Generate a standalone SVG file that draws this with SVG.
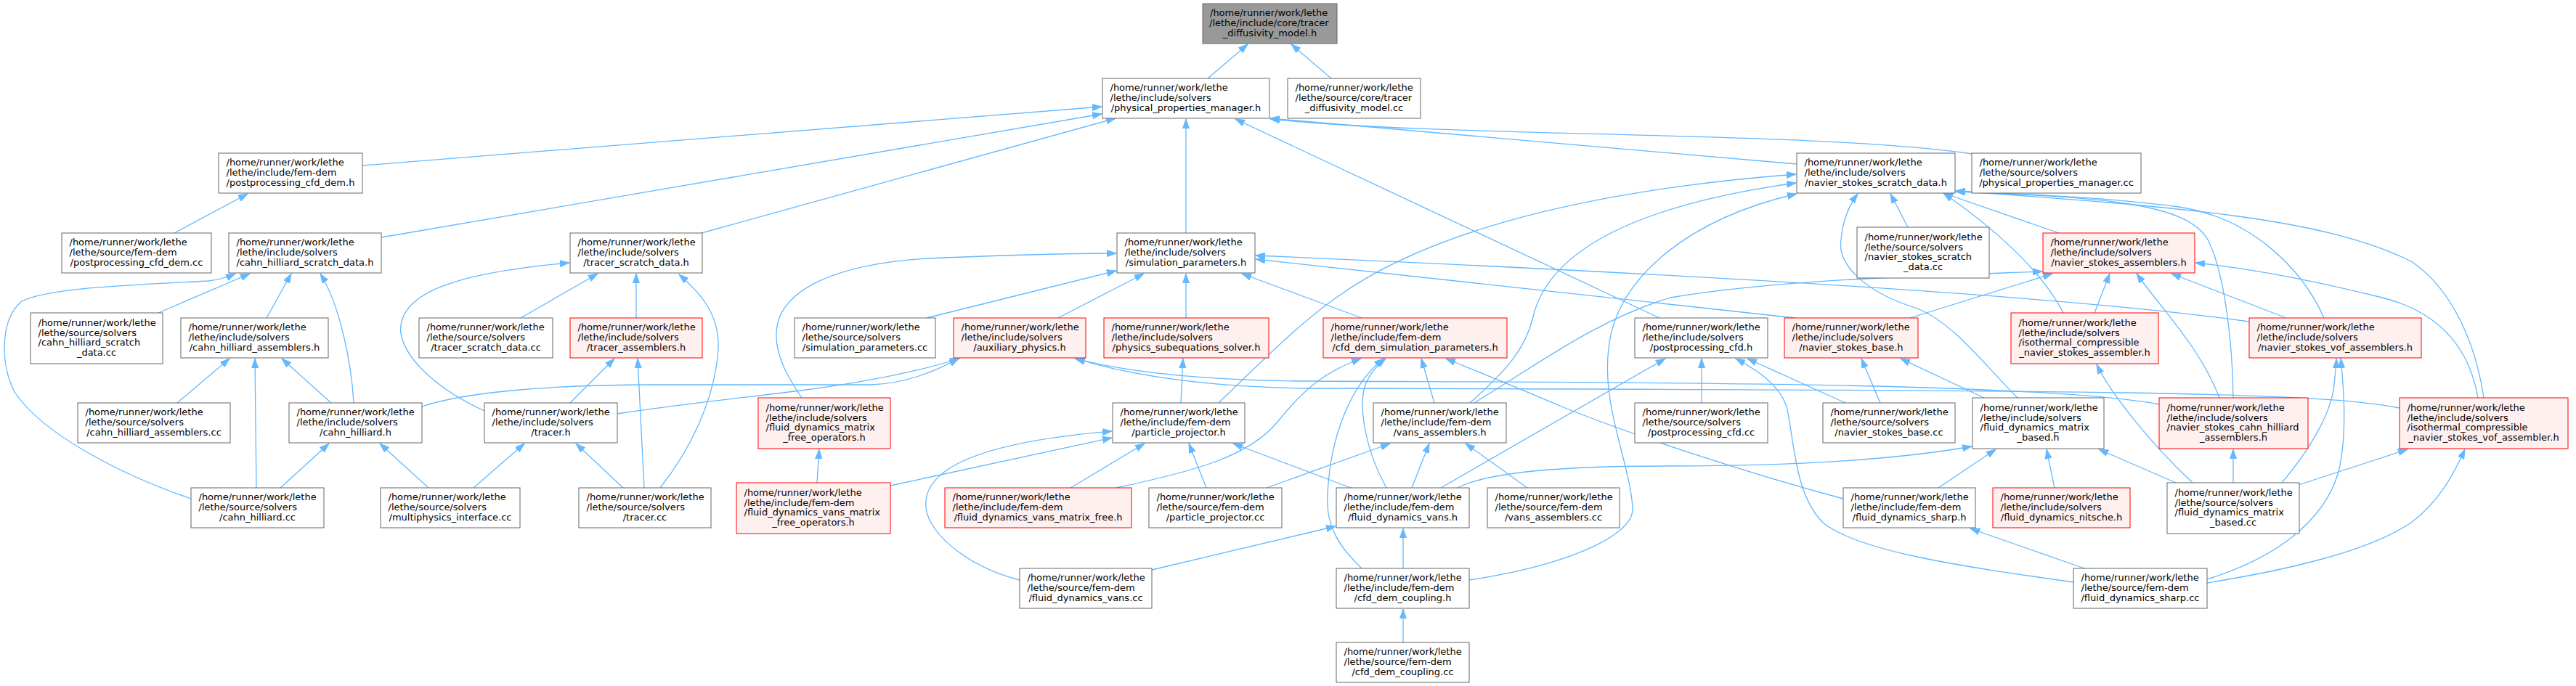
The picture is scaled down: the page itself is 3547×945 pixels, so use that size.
<svg xmlns="http://www.w3.org/2000/svg" width="3547" height="945" viewBox="0 0 3547 945">
<style>
.n rect{fill:#ffffff;stroke:#666666;stroke-width:1}
.r rect{fill:#fff0f0;stroke:#ff0000;stroke-width:1}
.g rect{fill:#999999;stroke:#666666;stroke-width:1}
text{font-family:"DejaVu Sans","Liberation Sans",sans-serif;font-size:13px;fill:#000000}
.m{text-anchor:middle}
#edges path{fill:none;stroke:#63b8ff;stroke-width:1.3;marker-end:url(#a)}
</style>
<defs>
<marker id="a" markerUnits="userSpaceOnUse" markerWidth="14" markerHeight="10" refX="13" refY="5" orient="auto"><path d="M0,0.5 L13,5 L0,9.5 Z" fill="#63b8ff" stroke="#63b8ff" stroke-width="1"/></marker>
</defs>
<rect x="0" y="0" width="3547" height="945" fill="#ffffff"/>
<g id="edges">
<path d="M1663,108 L1718,61"/>
<path d="M1833,108 L1778,61"/>
<path d="M499,228 L1517,147"/>
<path d="M525,327 L1517,157"/>
<path d="M966,321 L1536,163"/>
<path d="M1633,321 L1633,164"/>
<path d="M2474,226 L1749,163"/>
<path d="M2716,212 C2500,180 2000,190 1749,164"/>
<path d="M2285,438 L1701,164"/>
<path d="M240,321 L341,267"/>
<path d="M218,431 L344,377"/>
<path d="M263,687 C170,655 60,600 20,540 C0,500 0,440 30,415 C70,395 200,392 287,387 C305,385 315,381 324,377"/>
<path d="M367,438 L401,377"/>
<path d="M487,555 C484,500 468,420 441,377"/>
<path d="M244,555 L316,494"/>
<path d="M353,672 L351,494"/>
<path d="M456,555 L388,494"/>
<path d="M386,672 L453,611"/>
<path d="M590,672 L523,611"/>
<path d="M581,560 C640,540 760,530 900,530 L1200,530 C1250,528 1290,510 1320,494"/>
<path d="M850,570 C950,555 1050,545 1110,537 C1200,525 1270,510 1321,494"/>
<path d="M717,438 L823,377"/>
<path d="M876,438 L876,377"/>
<path d="M667,566 C610,540 560,500 552,460 C545,400 640,375 784,362"/>
<path d="M909,672 C950,620 985,550 989,480 C991,430 960,400 935,378"/>
<path d="M785,555 L846,494"/>
<path d="M887,672 L878,494"/>
<path d="M652,672 L722,611"/>
<path d="M858,672 L793,611"/>
<path d="M1276,438 L1537,373"/>
<path d="M1457,438 L1575,377"/>
<path d="M1633,438 L1633,377"/>
<path d="M1875,438 L1710,377"/>
<path d="M2472,438 L1729,357"/>
<path d="M3097,443 C2900,415 2500,385 1729,352"/>
<path d="M1104,548 C1085,520 1068,490 1069,460 C1070,400 1150,360 1300,355 C1400,351 1480,349 1537,349"/>
<path d="M1626,555 L1629,494"/>
<path d="M1678,555 C1740,495 1790,445 1840,410 C1950,330 2150,265 2473,240"/>
<path d="M2024,555 C2075,510 2100,480 2110,440 C2125,370 2200,290 2473,252"/>
<path d="M2030,555 C2120,500 2200,440 2300,410 C2450,385 2650,380 2812,374"/>
<path d="M2023,799 C2150,780 2250,740 2248,700 C2245,640 2205,560 2215,480 C2225,380 2330,300 2474,267"/>
<path d="M2841,431 C2810,370 2740,310 2676,266"/>
<path d="M2835,321 L2676,266"/>
<path d="M2627,313 L2603,267"/>
<path d="M2778,548 C2730,500 2690,445 2640,425 C2560,400 2530,360 2535,330 C2538,300 2548,280 2558,267"/>
<path d="M3075,548 C3074,480 3065,380 3040,330 C3010,280 2900,272 2693,264"/>
<path d="M3200,438 C3170,370 3100,300 3000,285 C2900,272 2800,268 2693,263"/>
<path d="M3420,548 C3410,480 3380,400 3320,360 C3200,300 3000,285 2693,263"/>
<path d="M2884,431 L2905,377"/>
<path d="M3056,548 C3030,480 2980,430 2942,377"/>
<path d="M3148,438 L2990,377"/>
<path d="M2630,438 L2826,377"/>
<path d="M3412,548 C3400,480 3360,430 3280,410 C3180,385 3100,370 3023,362"/>
<path d="M2589,555 L2563,494"/>
<path d="M2732,548 L2617,494"/>
<path d="M1984,672 L2293,494"/>
<path d="M2343,555 L2343,494"/>
<path d="M2855,802 C2700,780 2560,760 2510,720 C2470,680 2470,600 2460,560 C2450,530 2420,510 2390,494"/>
<path d="M2541,555 L2406,494"/>
<path d="M1537,672 C1640,650 1720,630 1760,580 C1800,530 1830,510 1874,494"/>
<path d="M1909,672 C1880,620 1870,560 1880,530 C1888,510 1900,500 1908,494"/>
<path d="M1875,783 C1840,750 1825,720 1828,680 C1832,600 1860,530 1905,494"/>
<path d="M1975,555 L1957,494"/>
<path d="M2538,687 C2400,650 2250,600 2150,560 C2080,530 2030,510 1991,494"/>
<path d="M1404,799 C1330,780 1270,730 1275,690 C1280,630 1400,605 1531,594"/>
<path d="M1226,669 L1531,603"/>
<path d="M1474,672 L1576,611"/>
<path d="M1661,672 L1637,611"/>
<path d="M1860,672 L1698,611"/>
<path d="M1125,665 L1128,619"/>
<path d="M1744,672 L1914,611"/>
<path d="M1944,672 L1968,611"/>
<path d="M2103,672 L2018,611"/>
<path d="M2007,672 C2050,650 2150,642 2300,642 C2450,642 2600,635 2715,615"/>
<path d="M1586,785 L1839,725"/>
<path d="M1932,783 L1932,728"/>
<path d="M1932,885 L1932,839"/>
<path d="M2669,672 L2748,619"/>
<path d="M2829,672 L2818,619"/>
<path d="M2996,665 L2890,619"/>
<path d="M2870,783 L2713,728"/>
<path d="M3075,665 L3075,619"/>
<path d="M3019,665 C2960,610 2905,540 2887,502"/>
<path d="M3142,665 C3180,620 3210,570 3214,530 C3216,510 3217,500 3217,494"/>
<path d="M3165,668 L3315,619"/>
<path d="M3039,798 C3130,770 3200,720 3220,650 C3232,600 3228,540 3223,494"/>
<path d="M3039,803 C3150,785 3260,760 3320,720 C3360,690 3380,650 3394,619"/>
<path d="M2973,557 C2800,525 2200,527 1800,525 C1650,524 1550,512 1480,494"/>
<path d="M3304,562 C3200,540 2900,537 1800,535 C1650,533 1550,515 1481,494"/>
</g>
<g id="n0" class="g"><rect x="1656" y="5" width="185" height="55"/><text x="1666" y="22.2">/home/runner/work/lethe</text><text x="1665" y="36">/lethe/include/core/tracer</text><text class="m" x="1748.5" y="49.8">_diffusivity_model.h</text></g>
<g id="n1" class="n"><rect x="1518" y="108" width="230" height="55"/><text x="1528.5" y="125.2">/home/runner/work/lethe</text><text x="1528.5" y="139">/lethe/include/solvers</text><text class="m" x="1633" y="152.8">/physical_properties_manager.h</text></g>
<g id="n2" class="n"><rect x="1773" y="108" width="183" height="55"/><text x="1783.5" y="125.2">/home/runner/work/lethe</text><text x="1783.5" y="139">/lethe/source/core/tracer</text><text class="m" x="1864.5" y="152.8">_diffusivity_model.cc</text></g>
<g id="n3" class="n"><rect x="301" y="211" width="198" height="55"/><text x="311.5" y="228.2">/home/runner/work/lethe</text><text x="311.5" y="242">/lethe/include/fem-dem</text><text class="m" x="400" y="255.8">/postprocessing_cfd_dem.h</text></g>
<g id="n4" class="n"><rect x="2474" y="211" width="218" height="55"/><text x="2484.5" y="228.2">/home/runner/work/lethe</text><text x="2484.5" y="242">/lethe/include/solvers</text><text class="m" x="2583" y="255.8">/navier_stokes_scratch_data.h</text></g>
<g id="n5" class="n"><rect x="2715" y="211" width="233" height="55"/><text x="2725.5" y="228.2">/home/runner/work/lethe</text><text x="2725.5" y="242">/lethe/source/solvers</text><text class="m" x="2831.5" y="255.8">/physical_properties_manager.cc</text></g>
<g id="n6" class="n"><rect x="85" y="321" width="206" height="55"/><text x="95.5" y="338.2">/home/runner/work/lethe</text><text x="95.5" y="352">/lethe/source/fem-dem</text><text class="m" x="188" y="365.8">/postprocessing_cfd_dem.cc</text></g>
<g id="n7" class="n"><rect x="315" y="321" width="210" height="55"/><text x="325.5" y="338.2">/home/runner/work/lethe</text><text x="325.5" y="352">/lethe/include/solvers</text><text class="m" x="420" y="365.8">/cahn_hilliard_scratch_data.h</text></g>
<g id="n8" class="n"><rect x="785" y="321" width="182" height="55"/><text x="795.5" y="338.2">/home/runner/work/lethe</text><text x="795.5" y="352">/lethe/include/solvers</text><text class="m" x="876" y="365.8">/tracer_scratch_data.h</text></g>
<g id="n9" class="n"><rect x="1538" y="321" width="190" height="55"/><text x="1548.5" y="338.2">/home/runner/work/lethe</text><text x="1548.5" y="352">/lethe/include/solvers</text><text class="m" x="1633" y="365.8">/simulation_parameters.h</text></g>
<g id="n10" class="n"><rect x="2557" y="313" width="182" height="70"/><text x="2567.5" y="330.8">/home/runner/work/lethe</text><text x="2567.5" y="344.6">/lethe/source/solvers</text><text x="2567.5" y="358.4">/navier_stokes_scratch</text><text class="m" x="2648" y="372.2">_data.cc</text></g>
<g id="n11" class="r"><rect x="2813" y="321" width="209" height="55"/><text x="2823.5" y="338.2">/home/runner/work/lethe</text><text x="2823.5" y="352">/lethe/include/solvers</text><text class="m" x="2917.5" y="365.8">/navier_stokes_assemblers.h</text></g>
<g id="n12" class="n"><rect x="42" y="431" width="182" height="70"/><text x="52.5" y="448.8">/home/runner/work/lethe</text><text x="52.5" y="462.6">/lethe/source/solvers</text><text x="52.5" y="476.4">/cahn_hilliard_scratch</text><text class="m" x="133" y="490.2">_data.cc</text></g>
<g id="n13" class="n"><rect x="249" y="438" width="203" height="55"/><text x="259.5" y="455.2">/home/runner/work/lethe</text><text x="259.5" y="469">/lethe/include/solvers</text><text class="m" x="350.5" y="482.8">/cahn_hilliard_assemblers.h</text></g>
<g id="n14" class="n"><rect x="577" y="438" width="184" height="55"/><text x="587.5" y="455.2">/home/runner/work/lethe</text><text x="587.5" y="469">/lethe/source/solvers</text><text class="m" x="669" y="482.8">/tracer_scratch_data.cc</text></g>
<g id="n15" class="r"><rect x="785" y="438" width="182" height="55"/><text x="795.5" y="455.2">/home/runner/work/lethe</text><text x="795.5" y="469">/lethe/include/solvers</text><text class="m" x="876" y="482.8">/tracer_assemblers.h</text></g>
<g id="n16" class="n"><rect x="1094" y="438" width="194" height="55"/><text x="1104.5" y="455.2">/home/runner/work/lethe</text><text x="1104.5" y="469">/lethe/source/solvers</text><text class="m" x="1191" y="482.8">/simulation_parameters.cc</text></g>
<g id="n17" class="r"><rect x="1313" y="438" width="182" height="55"/><text x="1323.5" y="455.2">/home/runner/work/lethe</text><text x="1323.5" y="469">/lethe/include/solvers</text><text class="m" x="1404" y="482.8">/auxiliary_physics.h</text></g>
<g id="n18" class="r"><rect x="1520" y="438" width="227" height="55"/><text x="1530.5" y="455.2">/home/runner/work/lethe</text><text x="1530.5" y="469">/lethe/include/solvers</text><text class="m" x="1633.5" y="482.8">/physics_subequations_solver.h</text></g>
<g id="n19" class="r"><rect x="1822" y="438" width="253" height="55"/><text x="1832.5" y="455.2">/home/runner/work/lethe</text><text x="1832.5" y="469">/lethe/include/fem-dem</text><text class="m" x="1948.5" y="482.8">/cfd_dem_simulation_parameters.h</text></g>
<g id="n20" class="n"><rect x="2251" y="438" width="183" height="55"/><text x="2261.5" y="455.2">/home/runner/work/lethe</text><text x="2261.5" y="469">/lethe/include/solvers</text><text class="m" x="2342.5" y="482.8">/postprocessing_cfd.h</text></g>
<g id="n21" class="r"><rect x="2457" y="438" width="184" height="55"/><text x="2467.5" y="455.2">/home/runner/work/lethe</text><text x="2467.5" y="469">/lethe/include/solvers</text><text class="m" x="2549" y="482.8">/navier_stokes_base.h</text></g>
<g id="n22" class="r"><rect x="2769" y="431" width="203" height="70"/><text x="2779.5" y="448.8">/home/runner/work/lethe</text><text x="2779.5" y="462.6">/lethe/include/solvers</text><text x="2779.5" y="476.4">/isothermal_compressible</text><text class="m" x="2870.5" y="490.2">_navier_stokes_assembler.h</text></g>
<g id="n23" class="r"><rect x="3097" y="438" width="237" height="55"/><text x="3107.5" y="455.2">/home/runner/work/lethe</text><text x="3107.5" y="469">/lethe/include/solvers</text><text class="m" x="3215.5" y="482.8">/navier_stokes_vof_assemblers.h</text></g>
<g id="n24" class="n"><rect x="107" y="555" width="210" height="55"/><text x="117.5" y="572.2">/home/runner/work/lethe</text><text x="117.5" y="586">/lethe/source/solvers</text><text class="m" x="212" y="599.8">/cahn_hilliard_assemblers.cc</text></g>
<g id="n25" class="n"><rect x="398" y="555" width="183" height="55"/><text x="408.5" y="572.2">/home/runner/work/lethe</text><text x="408.5" y="586">/lethe/include/solvers</text><text class="m" x="489.5" y="599.8">/cahn_hilliard.h</text></g>
<g id="n26" class="n"><rect x="667" y="555" width="183" height="55"/><text x="677.5" y="572.2">/home/runner/work/lethe</text><text x="677.5" y="586">/lethe/include/solvers</text><text class="m" x="758.5" y="599.8">/tracer.h</text></g>
<g id="n27" class="r"><rect x="1044" y="548" width="182" height="70"/><text x="1054.5" y="565.8">/home/runner/work/lethe</text><text x="1054.5" y="579.6">/lethe/include/solvers</text><text x="1054.5" y="593.4">/fluid_dynamics_matrix</text><text class="m" x="1135" y="607.2">_free_operators.h</text></g>
<g id="n28" class="n"><rect x="1532" y="555" width="182" height="55"/><text x="1542.5" y="572.2">/home/runner/work/lethe</text><text x="1542.5" y="586">/lethe/include/fem-dem</text><text class="m" x="1623" y="599.8">/particle_projector.h</text></g>
<g id="n29" class="n"><rect x="1891" y="555" width="183" height="55"/><text x="1901.5" y="572.2">/home/runner/work/lethe</text><text x="1901.5" y="586">/lethe/include/fem-dem</text><text class="m" x="1982.5" y="599.8">/vans_assemblers.h</text></g>
<g id="n30" class="n"><rect x="2251" y="555" width="183" height="55"/><text x="2261.5" y="572.2">/home/runner/work/lethe</text><text x="2261.5" y="586">/lethe/source/solvers</text><text class="m" x="2342.5" y="599.8">/postprocessing_cfd.cc</text></g>
<g id="n31" class="n"><rect x="2510" y="555" width="182" height="55"/><text x="2520.5" y="572.2">/home/runner/work/lethe</text><text x="2520.5" y="586">/lethe/source/solvers</text><text class="m" x="2601" y="599.8">/navier_stokes_base.cc</text></g>
<g id="n32" class="n"><rect x="2716" y="548" width="181" height="70"/><text x="2726.5" y="565.8">/home/runner/work/lethe</text><text x="2726.5" y="579.6">/lethe/include/solvers</text><text x="2726.5" y="593.4">/fluid_dynamics_matrix</text><text class="m" x="2806.5" y="607.2">_based.h</text></g>
<g id="n33" class="r"><rect x="2973" y="548" width="205" height="70"/><text x="2983.5" y="565.8">/home/runner/work/lethe</text><text x="2983.5" y="579.6">/lethe/include/solvers</text><text x="2983.5" y="593.4">/navier_stokes_cahn_hilliard</text><text class="m" x="3075.5" y="607.2">_assemblers.h</text></g>
<g id="n34" class="r"><rect x="3304" y="548" width="232" height="70"/><text x="3314.5" y="565.8">/home/runner/work/lethe</text><text x="3314.5" y="579.6">/lethe/include/solvers</text><text x="3314.5" y="593.4">/isothermal_compressible</text><text class="m" x="3420" y="607.2">_navier_stokes_vof_assembler.h</text></g>
<g id="n35" class="n"><rect x="263" y="672" width="183" height="55"/><text x="273.5" y="689.2">/home/runner/work/lethe</text><text x="273.5" y="703">/lethe/source/solvers</text><text class="m" x="354.5" y="716.8">/cahn_hilliard.cc</text></g>
<g id="n36" class="n"><rect x="524" y="672" width="192" height="55"/><text x="534.5" y="689.2">/home/runner/work/lethe</text><text x="534.5" y="703">/lethe/source/solvers</text><text class="m" x="620" y="716.8">/multiphysics_interface.cc</text></g>
<g id="n37" class="n"><rect x="797" y="672" width="182" height="55"/><text x="807.5" y="689.2">/home/runner/work/lethe</text><text x="807.5" y="703">/lethe/source/solvers</text><text class="m" x="888" y="716.8">/tracer.cc</text></g>
<g id="n38" class="r"><rect x="1014" y="665" width="212" height="70"/><text x="1024.5" y="682.8">/home/runner/work/lethe</text><text x="1024.5" y="696.6">/lethe/include/fem-dem</text><text x="1024.5" y="710.4">/fluid_dynamics_vans_matrix</text><text class="m" x="1120" y="724.2">_free_operators.h</text></g>
<g id="n39" class="r"><rect x="1301" y="672" width="257" height="55"/><text x="1311.5" y="689.2">/home/runner/work/lethe</text><text x="1311.5" y="703">/lethe/include/fem-dem</text><text class="m" x="1429.5" y="716.8">/fluid_dynamics_vans_matrix_free.h</text></g>
<g id="n40" class="n"><rect x="1582" y="672" width="183" height="55"/><text x="1592.5" y="689.2">/home/runner/work/lethe</text><text x="1592.5" y="703">/lethe/source/fem-dem</text><text class="m" x="1673.5" y="716.8">/particle_projector.cc</text></g>
<g id="n41" class="n"><rect x="1840" y="672" width="183" height="55"/><text x="1850.5" y="689.2">/home/runner/work/lethe</text><text x="1850.5" y="703">/lethe/include/fem-dem</text><text class="m" x="1931.5" y="716.8">/fluid_dynamics_vans.h</text></g>
<g id="n42" class="n"><rect x="2048" y="672" width="182" height="55"/><text x="2058.5" y="689.2">/home/runner/work/lethe</text><text x="2058.5" y="703">/lethe/source/fem-dem</text><text class="m" x="2139" y="716.8">/vans_assemblers.cc</text></g>
<g id="n43" class="n"><rect x="2538" y="672" width="182" height="55"/><text x="2548.5" y="689.2">/home/runner/work/lethe</text><text x="2548.5" y="703">/lethe/include/fem-dem</text><text class="m" x="2629" y="716.8">/fluid_dynamics_sharp.h</text></g>
<g id="n44" class="r"><rect x="2744" y="672" width="189" height="55"/><text x="2754.5" y="689.2">/home/runner/work/lethe</text><text x="2754.5" y="703">/lethe/include/solvers</text><text class="m" x="2838.5" y="716.8">/fluid_dynamics_nitsche.h</text></g>
<g id="n45" class="n"><rect x="2984" y="665" width="182" height="70"/><text x="2994.5" y="682.8">/home/runner/work/lethe</text><text x="2994.5" y="696.6">/lethe/source/solvers</text><text x="2994.5" y="710.4">/fluid_dynamics_matrix</text><text class="m" x="3075" y="724.2">_based.cc</text></g>
<g id="n46" class="n"><rect x="1404" y="783" width="182" height="55"/><text x="1414.5" y="800.2">/home/runner/work/lethe</text><text x="1414.5" y="814">/lethe/source/fem-dem</text><text class="m" x="1495" y="827.8">/fluid_dynamics_vans.cc</text></g>
<g id="n47" class="n"><rect x="1840" y="783" width="183" height="55"/><text x="1850.5" y="800.2">/home/runner/work/lethe</text><text x="1850.5" y="814">/lethe/include/fem-dem</text><text class="m" x="1931.5" y="827.8">/cfd_dem_coupling.h</text></g>
<g id="n48" class="n"><rect x="2855" y="783" width="184" height="55"/><text x="2865.5" y="800.2">/home/runner/work/lethe</text><text x="2865.5" y="814">/lethe/source/fem-dem</text><text class="m" x="2947" y="827.8">/fluid_dynamics_sharp.cc</text></g>
<g id="n49" class="n"><rect x="1840" y="885" width="183" height="55"/><text x="1850.5" y="902.2">/home/runner/work/lethe</text><text x="1850.5" y="916">/lethe/source/fem-dem</text><text class="m" x="1931.5" y="929.8">/cfd_dem_coupling.cc</text></g>
</svg>
